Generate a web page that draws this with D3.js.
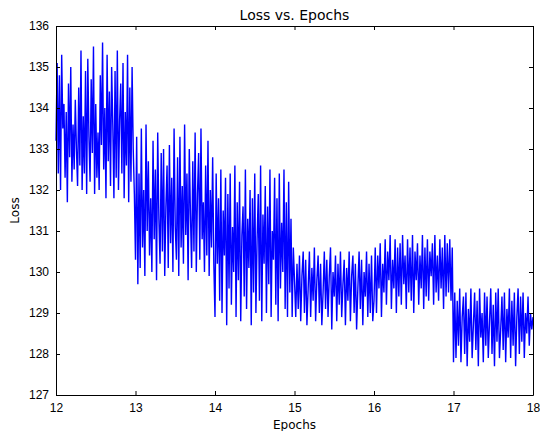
<!DOCTYPE html>
<html>
<head>
<meta charset="utf-8">
<script src="https://cdn.jsdelivr.net/npm/d3@7"></script>
<style>
  body { margin: 0; background: #fff; }
  svg { font-family: "DejaVu Sans", sans-serif; }
  .axis path, .axis line { stroke: #000; }
  .axis text { font-size: 12px; fill: #000; }
</style>
</head>
<body>
<div id="chart"></div>
<script>
// loss values per epoch
const epochStarts = [12, 13, 14, 15, 16, 17];
const loss12 = [133.2,135.1,132.4,134.8,132.0,135.3,133.5,134.1,132.3,133.9,131.7,134.6,132.8,135.0,132.2,133.6,132.5,134.2,133.0,132.1,134.5,132.6,135.4,132.0,133.8,132.4,134.9,131.9,135.2,133.3,132.2,134.7,132.9,135.5,131.9,134.1,132.3,133.4,132.0,134.8,133.1,135.6,132.5,134.0,131.8,135.3,132.7,134.4,132.1,135.0,133.6,131.8,134.9,132.3,135.4,132.0,133.7,134.6,132.4,135.1,131.8,133.9,132.6,135.3,131.7,134.5,132.2,135.0,133.0,131.9];
const loss13 = [130.3,133.3,129.7,132.4,130.1,133.5,130.6,132.0,129.9,133.6,131.0,132.7,130.4,131.8,130.0,133.2,130.8,132.5,129.8,133.4,131.3,130.2,132.9,130.5,133.0,129.9,131.6,132.6,130.1,133.1,130.7,132.3,130.0,133.5,131.1,130.3,132.8,129.9,133.3,130.6,132.1,130.2,133.6,130.9,132.4,129.8,133.0,131.4,130.1,132.7,130.5,133.4,130.0,131.9,132.9,130.3,133.5,130.8,131.7,130.0,132.6,130.4,133.2,129.9,132.0,130.6,132.8,130.2];
const loss14 = [128.9,132.4,130.2,131.8,129.3,132.5,129.0,131.5,130.4,132.3,128.7,131.9,129.6,132.4,129.2,131.1,130.0,132.6,128.9,131.7,129.8,132.2,128.8,130.9,131.6,129.4,132.5,129.1,131.3,130.1,132.0,128.7,131.8,129.5,132.4,129.0,130.8,131.9,129.3,132.6,128.8,131.4,130.2,132.1,129.0,131.6,129.7,132.5,128.9,131.0,130.3,132.3,129.2,131.8,128.8,132.4,129.6,131.2,130.0,132.5,129.1,131.7,128.9,132.2,129.5,131.3,128.9,130.6];
const loss15 = [129.8,128.9,130.2,129.1,130.4,128.8,129.9,130.5,129.0,130.3,128.7,129.6,130.5,128.9,130.1,129.3,130.6,128.8,129.8,130.4,129.0,130.2,128.7,129.5,130.5,129.1,130.3,128.9,129.9,130.6,128.6,130.0,129.4,130.4,128.8,130.2,129.2,130.5,128.9,129.7,130.3,128.7,130.1,129.3,130.5,128.8,129.9,130.4,129.0,130.2,128.6,129.6,130.5,129.1,130.3,128.7,130.0,129.4,130.5,128.9,130.2,129.0,130.4,128.8];
const loss16 = [129.3,130.6,129.0,130.4,129.6,130.7,128.9,130.2,129.5,130.8,129.2,130.5,129.8,130.9,129.1,130.3,129.6,130.8,129.0,130.6,129.4,130.7,129.2,130.9,129.7,130.4,129.1,130.8,129.5,130.6,129.3,130.9,129.0,130.5,129.8,130.7,129.2,130.4,129.6,130.9,129.1,130.6,129.4,130.8,129.3,130.5,129.9,130.7,129.2,130.9,129.5,130.4,129.3,130.8,129.6,130.6,129.1,130.9,129.4,130.7,129.5,130.8,129.3,130.6];
const loss17 = [127.8,129.5,127.9,129.3,128.2,129.6,127.8,128.9,129.4,128.0,129.5,127.7,129.1,128.3,129.6,127.9,128.7,129.5,128.1,129.3,127.7,129.6,128.4,129.0,127.8,129.5,128.2,129.4,127.9,128.8,129.6,128.0,129.2,127.7,129.5,128.3,129.6,127.9,128.6,129.4,128.1,129.5,127.8,129.1,128.4,129.6,127.9,129.3,128.2,129.5,127.7,128.9,129.6,128.0,129.4,128.3,129.5,127.9,129.0,128.5,129.4,128.2,129.0,128.6];
const xTicks = [12, 13, 14, 15, 16, 17, 18];
const yTicks = [127, 128, 129, 130, 131, 132, 133, 134, 135, 136];

const width = 540;
const height = 431;
const margin = { top: 26, right: 7, bottom: 36, left: 56 };

const lossByEpoch = [loss12, loss13, loss14, loss15, loss16, loss17];

// spread each epoch's points evenly over that epoch
const points = [];
lossByEpoch.forEach((vals, k) => {
    vals.forEach((v, i) => {
        points.push({ epoch: epochStarts[k] + i / vals.length, loss: v });
    });
});
points.push({ epoch: 18, loss: 128.9 });

const svg = d3.select('#chart')
    .append('svg')
    .attr('width', width)
    .attr('height', height);

const x = d3.scaleLinear()
    .domain([12, 18])
    .range([margin.left, width - margin.right]);

const y = d3.scaleLinear()
    .domain([127, 136])
    .range([height - margin.bottom, margin.top]);

const line = d3.line()
    .x(d => x(d.epoch))
    .y(d => y(d.loss));

svg.append('path')
    .datum(points)
    .attr('fill', 'none')
    .attr('stroke', '#0000ff')
    .attr('stroke-width', 1.4)
    .attr('d', line);

// ticks point inward, on all four sides
svg.append('g')
    .attr('class', 'axis')
    .attr('transform', `translate(0, ${height - margin.bottom})`)
    .call(d3.axisBottom(x).tickValues(xTicks).tickSizeInner(-4).tickSizeOuter(0).tickPadding(8).tickFormat(d3.format('d')));

svg.append('g')
    .attr('class', 'axis')
    .attr('transform', `translate(0, ${margin.top})`)
    .call(d3.axisTop(x).tickValues(xTicks).tickSizeInner(-4).tickSizeOuter(0).tickFormat(''));

svg.append('g')
    .attr('class', 'axis')
    .attr('transform', `translate(${margin.left}, 0)`)
    .call(d3.axisLeft(y).tickValues(yTicks).tickSizeInner(-4).tickSizeOuter(0).tickPadding(7).tickFormat(d3.format('d')));

svg.append('g')
    .attr('class', 'axis')
    .attr('transform', `translate(${width - margin.right}, 0)`)
    .call(d3.axisRight(y).tickValues(yTicks).tickSizeInner(-4).tickSizeOuter(0).tickFormat(''));

svg.selectAll('.axis .domain').attr('stroke-width', 1);

svg.append('text')
    .attr('x', (margin.left + width - margin.right) / 2)
    .attr('y', 20)
    .attr('text-anchor', 'middle')
    .attr('font-size', 14)
    .text('Loss vs. Epochs');

svg.append('text')
    .attr('x', (margin.left + width - margin.right) / 2)
    .attr('y', 429)
    .attr('text-anchor', 'middle')
    .attr('font-size', 12)
    .text('Epochs');

svg.append('text')
    .attr('transform', `translate(19, ${(margin.top + height - margin.bottom) / 2}) rotate(-90)`)
    .attr('text-anchor', 'middle')
    .attr('font-size', 12)
    .text('Loss');
</script>
</body>
</html>
